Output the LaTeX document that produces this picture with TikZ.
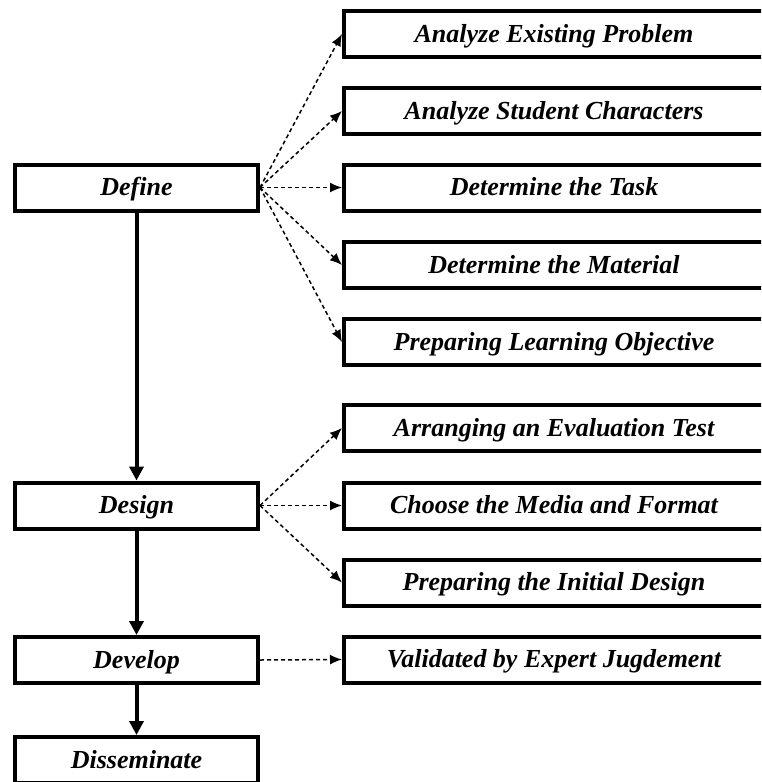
\documentclass[tikz,border=0pt]{standalone}
\usepackage{fontspec}
\setmainfont{Liberation Serif}
\usetikzlibrary{arrows.meta}
\tikzset{stage/.style={draw, line width=4pt, inner sep=0pt,
    minimum width=243pt, minimum height=46pt,
    text height=18pt, text depth=2pt,
    font=\fontsize{26}{30}\selectfont\bfseries\itshape}}
\tikzset{task/.style={stage, minimum width=420pt}}
\tikzset{flow/.style={line width=4pt, -{Triangle[length=14pt,width=14pt]}}}
\tikzset{sub/.style={line width=1.5pt, dash pattern=on 4pt off 3pt,
    -{Latex[length=12pt,width=10pt]}}}

\begin{document}
\begin{tikzpicture}[x=1pt, y=-1pt]
    \clip (0,0) rectangle (761,782);
    \pgfmathsetmacro{\leftx}{136.5}
    \pgfmathsetmacro{\rightx}{554}
    % stages
    \node [stage] (define) at (\leftx,187.5) {Define};
    \node [stage] (design) at (\leftx,505.5) {Design};
    \node [stage] (develop) at (\leftx,660) {Develop};
    \node [stage] (disseminate) at (\leftx,760) {Disseminate};
    % tasks
    \node [task] (problem) at (\rightx,34) {Analyze Existing Problem};
    \node [task] (students) at (\rightx,111) {Analyze Student Characters};
    \node [task] (task) at (\rightx,187.5) {Determine the Task};
    \node [task] (material) at (\rightx,265) {Determine the Material};
    \node [task] (objective) at (\rightx,342) {Preparing Learning Objective};
    \node [task] (evaltest) at (\rightx,428) {Arranging an Evaluation Test};
    \node [task] (media) at (\rightx,505.5) {Choose the Media and Format};
    \node [task] (initdesign) at (\rightx,582.5) {Preparing the Initial Design};
    \node [task] (expert) at (\rightx,659.5) {Validated by Expert Jugdement};
    % main flow
    \draw [flow] (define) -- (design);
    \draw [flow] (design) -- (develop);
    \draw [flow] (develop) -- (disseminate);
    % dashed links
    \draw [sub] (define.east) -- (problem.west);
    \draw [sub] (define.east) -- (students.west);
    \draw [sub] (define.east) -- (task.west);
    \draw [sub] (define.east) -- (material.west);
    \draw [sub] (define.east) -- (objective.west);
    \draw [sub] (design.east) -- (evaltest.west);
    \draw [sub] (design.east) -- (media.west);
    \draw [sub] (design.east) -- (initdesign.west);
    \draw [sub] (develop.east) -- (expert.west);
\end{tikzpicture}
\end{document}
